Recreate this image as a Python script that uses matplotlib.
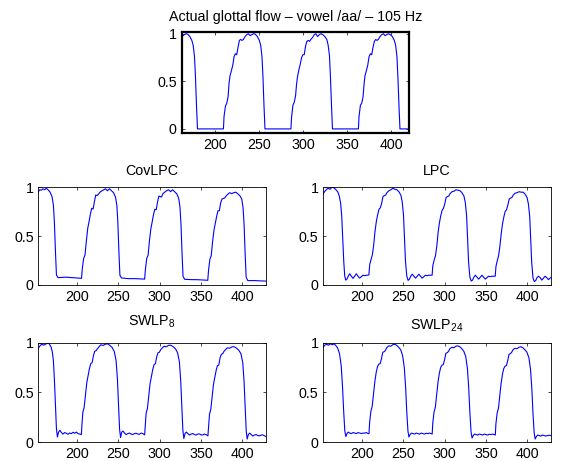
import matplotlib
matplotlib.use('Agg')
import matplotlib.pyplot as plt

plt.rcParams['font.family'] = 'Liberation Sans'
plt.rcParams['mathtext.fontset'] = 'custom'
plt.rcParams['mathtext.rm'] = 'Liberation Sans'
plt.rcParams['mathtext.default'] = 'regular'

# Data (sample index, normalised flow)
actual_x = [
    162.5, 163.5, 165.4, 167.3, 169.5, 171.8, 174.0, 175.5, 177.0, 178.1, 179.3, 180.4,
    195.0, 209.8,
    210.5, 212.1, 213.6, 215.1, 216.2, 217.3, 218.8, 220.4, 221.9, 223.4,
    224.9, 226.4, 227.9, 229.4, 230.9, 232.4, 234.3, 236.2, 238.1, 240.0,
    241.9, 243.8, 246.0, 248.3, 250.5, 252.0, 253.5, 254.6, 255.8, 256.9,
    270.0, 286.3,
    287.0, 288.6, 290.1, 291.6, 292.7, 293.8, 295.3, 296.9, 298.4, 299.9,
    301.4, 302.9, 304.4, 305.9, 307.4, 308.9, 310.8, 312.7, 314.6, 316.5,
    318.4, 320.3, 322.5, 324.8, 327.0, 328.5, 330.0, 331.1, 332.3, 333.4,
    348.0, 362.8,
    363.5, 365.1, 366.6, 368.1, 369.2, 370.3, 371.8, 373.4, 374.9, 376.4,
    377.9, 379.4, 380.9, 382.4, 383.9, 385.4, 387.3, 389.2, 391.1, 393.0,
    394.9, 396.8, 399.0, 401.3, 403.5, 405.0, 406.5, 407.6, 408.8, 409.9,
    420.5]
actual_y = [
    0.985, 0.975, 0.99, 1.0, 0.995, 0.97, 0.93, 0.88, 0.76, 0.55, 0.24, 0.0,
    0.0, 0.0,
    0.13, 0.24, 0.27, 0.34, 0.48, 0.56, 0.61, 0.67, 0.76, 0.79,
    0.78, 0.86, 0.93, 0.94, 0.93, 0.94, 0.97, 0.99, 1.0, 0.98,
    0.99, 1.0, 0.995, 0.97, 0.93, 0.88, 0.76, 0.55, 0.24, 0.0,
    0.0, 0.0,
    0.12, 0.25, 0.28, 0.35, 0.47, 0.55, 0.62, 0.68, 0.75, 0.78,
    0.78, 0.87, 0.92, 0.93, 0.92, 0.94, 0.96, 0.99, 1.0, 0.97,
    0.99, 1.0, 0.99, 0.97, 0.94, 0.88, 0.77, 0.55, 0.25, 0.0,
    0.0, 0.0,
    0.13, 0.25, 0.27, 0.34, 0.47, 0.56, 0.61, 0.67, 0.76, 0.79,
    0.78, 0.86, 0.92, 0.94, 0.93, 0.94, 0.97, 0.99, 1.0, 0.98,
    0.99, 1.0, 0.99, 0.97, 0.93, 0.88, 0.76, 0.54, 0.24, 0.0,
    0.0]

covlpc_x = [
    153.0, 155.0, 157.0, 159.0, 161.0, 163.0, 165.0, 167.5, 169.9, 171.5,
    172.7, 174.0, 175.2, 177.2, 186.0, 195.0, 205.5,
    206.5, 208.1, 209.7, 211.3, 213.0, 214.6, 216.2, 217.8, 219.5, 221.1,
    222.7, 224.3, 225.9, 227.6, 229.8, 232.0, 234.4, 236.9, 239.3, 241.7,
    244.2, 246.6, 248.2, 249.4, 250.7, 251.9, 253.9, 262.0, 270.0, 278.0, 281.8,
    282.8, 284.4, 286.0, 287.6, 289.3, 290.9, 292.5, 294.1, 295.8, 297.4,
    299.0, 300.6, 302.2, 303.9, 306.1, 308.3, 310.7, 313.2, 315.6, 318.0,
    320.5, 322.9, 324.5, 325.7, 327.0, 328.2, 330.2, 338.3, 346.3, 354.3, 358.1,
    359.1, 360.7, 362.3, 363.9, 365.6, 367.2, 368.8, 370.4, 372.1, 373.7,
    375.3, 376.9, 378.5, 380.2, 382.4, 384.6, 387.0, 389.5, 391.9, 394.3,
    396.8, 399.2, 400.8, 402.0, 403.3, 404.5, 406.5, 414.6, 422.6, 429.0]
covlpc_y = [
    0.95, 0.975, 0.97, 0.985, 0.975, 0.99, 0.975, 0.95, 0.904, 0.819,
    0.648, 0.341, 0.102, 0.075, 0.08, 0.075, 0.068,
    0.171, 0.273, 0.307, 0.444, 0.58, 0.648, 0.724, 0.785, 0.778, 0.853,
    0.922, 0.915, 0.928, 0.949, 0.962, 0.973, 0.985, 0.965, 0.985, 0.965,
    0.945, 0.90, 0.815, 0.645, 0.34, 0.10, 0.072, 0.065, 0.065, 0.062, 0.06,
    0.165, 0.275, 0.305, 0.45, 0.575, 0.645, 0.72, 0.775, 0.77, 0.85,
    0.91, 0.905, 0.90, 0.935, 0.95, 0.965, 0.975, 0.955, 0.975, 0.955,
    0.935, 0.89, 0.80, 0.63, 0.33, 0.09, 0.058, 0.055, 0.054, 0.05, 0.048,
    0.155, 0.265, 0.30, 0.44, 0.56, 0.63, 0.70, 0.76, 0.76, 0.84,
    0.88, 0.885, 0.89, 0.91, 0.93, 0.945, 0.935, 0.945, 0.95, 0.935,
    0.915, 0.88, 0.79, 0.62, 0.32, 0.08, 0.045, 0.045, 0.042, 0.04]

lpc_x = [
    153.0, 155.0, 157.0, 159.2, 161.6, 164.0, 166.4, 168.8, 171.2, 172.8,
    174.4, 175.8, 177.0, 178.2, 179.4, 180.6, 182.0, 183.6, 185.4, 187.4,
    189.4, 191.4, 193.4, 195.4, 197.4, 199.4, 201.4, 203.4, 205.4, 207.4, 208.6,
    209.6, 211.2, 212.8, 214.4, 216.0, 217.6, 219.2, 220.8, 222.4, 224.0,
    225.6, 227.2, 228.8, 230.4, 232.8, 235.2, 237.6, 240.0, 242.4, 244.8,
    247.2, 248.8, 250.4, 251.6, 252.8, 254.4, 256.0, 257.6, 259.2, 261.0,
    263.0, 265.0, 267.0, 269.0, 271.0, 273.0, 275.0, 277.0, 279.0, 281.0, 283.0, 285.0,
    285.9, 287.5, 289.1, 290.7, 292.3, 293.9, 295.5, 297.1, 298.7, 300.3,
    301.9, 303.5, 305.1, 306.7, 309.1, 311.5, 313.9, 316.3, 318.7, 321.1,
    323.5, 325.1, 326.7, 327.9, 329.1, 330.7, 332.3, 333.9, 335.5, 337.3,
    339.3, 341.3, 343.3, 345.3, 347.3, 349.3, 351.3, 353.3, 355.3, 357.3, 359.3, 361.3,
    362.2, 363.8, 365.4, 367.0, 368.6, 370.2, 371.8, 373.4, 375.0, 376.6,
    378.2, 379.8, 381.4, 383.0, 385.4, 387.8, 390.2, 392.6, 395.0, 397.4,
    399.8, 401.4, 403.0, 404.2, 405.4, 407.0, 408.6, 410.2, 411.8, 413.6,
    415.6, 417.6, 419.6, 421.6, 423.6, 425.6, 427.6, 429.0]
lpc_y = [
    0.93, 0.955, 0.975, 0.99, 0.98, 1.0, 0.995, 0.975, 0.95, 0.91,
    0.84, 0.70, 0.47, 0.24, 0.09, 0.05, 0.06, 0.09, 0.115, 0.09,
    0.068, 0.09, 0.115, 0.09, 0.07, 0.085, 0.10, 0.095, 0.10, 0.10, 0.105,
    0.21, 0.26, 0.31, 0.41, 0.55, 0.65, 0.72, 0.775, 0.79, 0.835,
    0.905, 0.915, 0.92, 0.945, 0.965, 0.975, 0.99, 0.98, 0.975, 0.955,
    0.92, 0.855, 0.72, 0.48, 0.245, 0.09, 0.047, 0.06, 0.09, 0.11,
    0.09, 0.07, 0.09, 0.11, 0.09, 0.07, 0.085, 0.10, 0.095, 0.10, 0.10, 0.10,
    0.20, 0.255, 0.30, 0.40, 0.54, 0.64, 0.71, 0.765, 0.785, 0.83,
    0.895, 0.905, 0.91, 0.935, 0.955, 0.96, 0.975, 0.97, 0.965, 0.945,
    0.91, 0.845, 0.71, 0.47, 0.235, 0.08, 0.04, 0.05, 0.08, 0.10,
    0.08, 0.06, 0.08, 0.10, 0.08, 0.06, 0.075, 0.09, 0.085, 0.09, 0.09, 0.09,
    0.19, 0.25, 0.30, 0.40, 0.53, 0.63, 0.70, 0.755, 0.77, 0.82,
    0.88, 0.89, 0.895, 0.92, 0.94, 0.945, 0.955, 0.95, 0.95, 0.93,
    0.895, 0.83, 0.70, 0.46, 0.23, 0.07, 0.035, 0.045, 0.075, 0.09,
    0.075, 0.05, 0.07, 0.09, 0.075, 0.055, 0.07, 0.08]

swlp8_x = [
    153.0, 155.0, 157.4, 159.8, 162.2, 164.6, 166.4, 168.6, 170.2, 171.5,
    172.7, 174.0, 175.2, 176.4, 177.8, 179.4, 181.2, 183.2, 185.2, 187.2,
    189.2, 191.2, 193.2, 195.2, 197.2, 199.2, 201.2, 203.2, 205.3,
    205.9, 207.1, 208.7, 210.3, 211.9, 213.5, 215.1, 216.7, 218.3, 219.9,
    221.5, 223.1, 224.7, 226.3, 228.7, 231.5, 234.3, 237.1, 239.9, 242.5,
    245.1, 247.3, 248.9, 250.3, 251.5, 252.7, 254.1, 255.7, 257.5, 259.5,
    261.5, 263.5, 265.5, 267.5, 269.5, 271.5, 273.5, 275.5, 277.5, 279.5, 281.8,
    282.4, 283.6, 285.2, 286.8, 288.4, 290.0, 291.6, 293.2, 294.8, 296.4,
    298.0, 299.6, 301.2, 302.8, 305.2, 308.0, 310.8, 313.6, 316.4, 319.0,
    321.6, 323.8, 325.4, 326.8, 328.0, 329.2, 330.6, 332.2, 334.0, 336.0,
    338.0, 340.0, 342.0, 344.0, 346.0, 348.0, 350.0, 352.0, 354.0, 356.0, 358.3,
    359.0, 360.2, 361.8, 363.4, 365.0, 366.6, 368.2, 369.8, 371.4, 373.0,
    374.6, 376.2, 377.8, 379.4, 381.8, 384.6, 387.4, 390.2, 393.0, 395.6,
    398.2, 400.4, 402.0, 403.4, 404.6, 405.8, 407.2, 408.8, 410.6, 412.6,
    414.6, 416.6, 418.6, 420.6, 422.6, 424.6, 426.6, 429.0]
swlp8_y = [
    0.94, 0.966, 0.986, 0.976, 0.986, 1.0, 0.99, 0.96, 0.91, 0.82,
    0.635, 0.365, 0.13, 0.05, 0.10, 0.118, 0.095, 0.08, 0.095, 0.088,
    0.078, 0.091, 0.084, 0.098, 0.088, 0.10, 0.085, 0.08, 0.075,
    0.16, 0.30, 0.35, 0.47, 0.60, 0.67, 0.74, 0.79, 0.80, 0.87,
    0.915, 0.92, 0.94, 0.956, 0.98, 0.973, 0.986, 0.99, 0.973, 0.953,
    0.912, 0.82, 0.635, 0.365, 0.13, 0.045, 0.10, 0.11, 0.09, 0.075,
    0.085, 0.09, 0.08, 0.075, 0.085, 0.088, 0.08, 0.078, 0.09, 0.085, 0.072,
    0.15, 0.29, 0.34, 0.46, 0.59, 0.66, 0.73, 0.78, 0.79, 0.86,
    0.90, 0.905, 0.93, 0.945, 0.965, 0.96, 0.975, 0.975, 0.96, 0.94,
    0.90, 0.81, 0.62, 0.35, 0.12, 0.035, 0.085, 0.10, 0.085, 0.07,
    0.08, 0.085, 0.075, 0.07, 0.08, 0.082, 0.072, 0.07, 0.08, 0.075, 0.062,
    0.14, 0.28, 0.33, 0.45, 0.58, 0.65, 0.72, 0.77, 0.775, 0.85,
    0.885, 0.89, 0.915, 0.93, 0.95, 0.945, 0.96, 0.96, 0.945, 0.925,
    0.89, 0.80, 0.61, 0.34, 0.11, 0.03, 0.075, 0.09, 0.075, 0.06,
    0.07, 0.075, 0.065, 0.062, 0.07, 0.072, 0.062, 0.055]

swlp24_x = [
    153.0, 155.0, 157.4, 159.6, 162.0, 164.4, 166.6, 168.3, 170.7, 173.1,
    175.1, 176.7, 178.1, 179.5, 180.7, 182.1, 183.7, 185.5, 187.5, 189.5,
    191.5, 193.5, 195.5, 197.5, 199.5, 201.5, 203.5, 205.5, 207.5, 208.7,
    209.5, 211.0, 212.6, 214.2, 215.8, 217.4, 219.0, 220.6, 222.2, 223.8,
    225.4, 227.0, 228.6, 230.2, 232.6, 235.0, 237.4, 239.8, 242.2, 244.6,
    247.0, 249.4, 251.4, 253.0, 254.4, 255.8, 257.0, 258.4, 260.0, 261.8,
    263.8, 265.8, 267.8, 269.8, 271.8, 273.8, 275.8, 277.8, 279.8, 281.8, 283.8, 285.1,
    285.8, 287.3, 288.9, 290.5, 292.1, 293.7, 295.3, 296.9, 298.5, 300.1,
    301.7, 303.3, 304.9, 306.5, 308.9, 311.3, 313.7, 316.1, 318.5, 320.9,
    323.3, 325.7, 327.7, 329.3, 330.7, 332.1, 333.3, 334.7, 336.3, 338.1,
    340.1, 342.1, 344.1, 346.1, 348.1, 350.1, 352.1, 354.1, 356.1, 358.1, 360.1, 361.4,
    362.1, 363.6, 365.2, 366.8, 368.4, 370.0, 371.6, 373.2, 374.8, 376.4,
    378.0, 379.6, 381.2, 382.8, 385.2, 387.6, 390.0, 392.4, 394.8, 397.2,
    399.6, 402.0, 404.0, 405.6, 407.0, 408.4, 409.6, 411.0, 412.6, 414.4,
    416.4, 418.4, 420.4, 422.4, 424.4, 426.4, 429.0]
swlp24_y = [
    0.95, 0.975, 0.985, 0.975, 0.99, 0.98, 0.99, 0.975, 0.95, 0.89,
    0.77, 0.56, 0.31, 0.11, 0.055, 0.085, 0.10, 0.09, 0.085, 0.095,
    0.09, 0.085, 0.095, 0.09, 0.085, 0.09, 0.09, 0.095, 0.085, 0.085,
    0.20, 0.31, 0.36, 0.48, 0.61, 0.70, 0.76, 0.785, 0.79, 0.84,
    0.905, 0.91, 0.925, 0.95, 0.97, 0.965, 0.98, 0.985, 0.975, 0.955,
    0.93, 0.87, 0.75, 0.55, 0.30, 0.11, 0.05, 0.075, 0.09, 0.085,
    0.08, 0.09, 0.085, 0.08, 0.09, 0.085, 0.08, 0.088, 0.085, 0.09, 0.085, 0.08,
    0.19, 0.30, 0.35, 0.47, 0.60, 0.69, 0.75, 0.775, 0.78, 0.83,
    0.895, 0.90, 0.915, 0.94, 0.955, 0.95, 0.965, 0.97, 0.96, 0.94,
    0.915, 0.86, 0.74, 0.54, 0.29, 0.10, 0.04, 0.065, 0.08, 0.075,
    0.07, 0.08, 0.075, 0.07, 0.08, 0.075, 0.07, 0.078, 0.075, 0.08, 0.075, 0.07,
    0.18, 0.29, 0.34, 0.46, 0.59, 0.68, 0.74, 0.765, 0.77, 0.82,
    0.885, 0.89, 0.905, 0.93, 0.945, 0.94, 0.955, 0.96, 0.95, 0.93,
    0.905, 0.85, 0.73, 0.53, 0.28, 0.09, 0.03, 0.055, 0.07, 0.065,
    0.06, 0.07, 0.065, 0.06, 0.065, 0.068, 0.065]

x_ticks = [200, 250, 300, 350, 400]
y_ticks = [0, 0.5, 1]
y_tick_labels = ['0', '0.5', '1']

fig = plt.figure(figsize=(5.62, 4.61), dpi=100)

# (title, x, y, axes rect, xlim, ylim, title pad, frame width)
panels = [
    ('Actual glottal flow \u2013 vowel /aa/ \u2013 105 Hz', actual_x, actual_y,
     [0.3233, 0.7121, 0.405, 0.2178], (162.5, 420.5), (-0.04, 1.015), 8.5, 1.6),
    ('CovLPC', covlpc_x, covlpc_y,
     [0.0685, 0.3818, 0.4048, 0.2119], (153.5, 428.5), (0, 1), 8.5, 0.6),
    ('LPC', lpc_x, lpc_y,
     [0.5753, 0.3818, 0.4048, 0.2119], (153.5, 428.5), (0, 1), 8.5, 0.6),
    ('SWLP$_{8}$', swlp8_x, swlp8_y,
     [0.0685, 0.0412, 0.4048, 0.2152], (153.5, 428.5), (0, 1), 12.5, 0.6),
    ('SWLP$_{24}$', swlp24_x, swlp24_y,
     [0.5753, 0.0412, 0.4048, 0.2152], (153.5, 428.5), (0, 1), 9.5, 0.6),
]

for title, xs, ys, rect, xlim, ylim, pad, lw in panels:
    ax = fig.add_axes(rect)
    ax.plot(xs, ys, color='#0000ff', linewidth=0.8)
    ax.set_xlim(*xlim)
    ax.set_ylim(*ylim)
    ax.set_xticks(x_ticks)
    ax.set_yticks(y_ticks)
    ax.set_yticklabels(y_tick_labels)
    ax.tick_params(direction='in', top=True, right=True, length=2.2,
                   width=0.5, labelsize=10.3, pad=3.5)
    for s in ax.spines.values():
        s.set_linewidth(lw)
    ax.set_title(title, fontsize=10.3, pad=pad)

fig.savefig('out.png', dpi=100)
